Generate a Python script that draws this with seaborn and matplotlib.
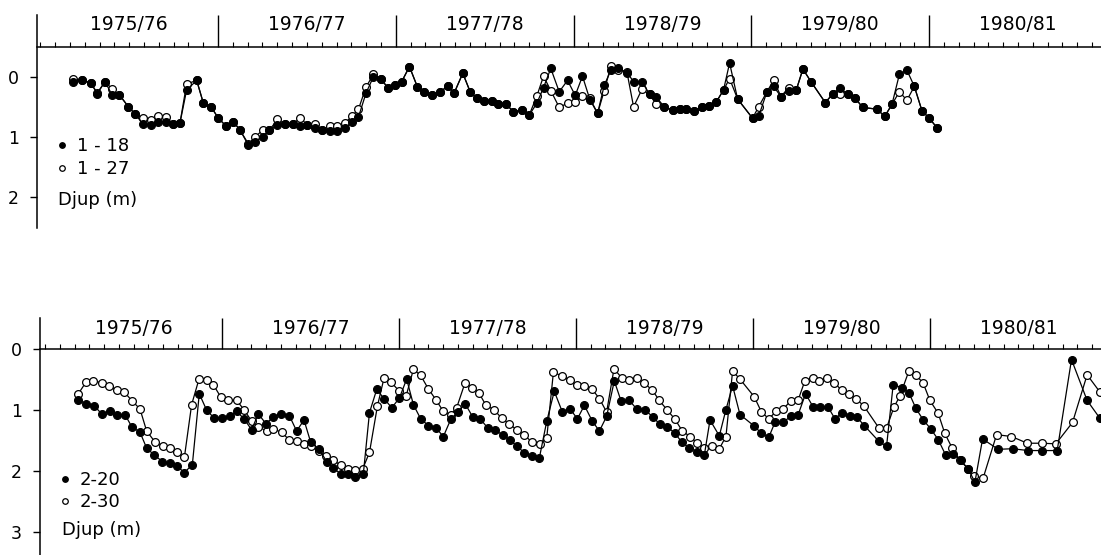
import matplotlib
matplotlib.use("Agg")
import matplotlib.pyplot as plt
import seaborn as sns
import pandas as pd
from matplotlib.lines import Line2D
from matplotlib.ticker import MultipleLocator

sns.set_theme(style="white")
plt.rcParams["font.family"] = ["DejaVu Sans"]

# ---------------- data (months since start of 1975/76, depth in m) ----------------
year_labels = ["1975/76", "1976/77", "1977/78", "1978/79", "1979/80", "1980/81"]

top_months = [
    2.2, 2.8, 3.4, 3.85, 4.37, 4.84, 5.34, 5.95, 6.4, 6.91, 7.48, 7.97, 8.47, 8.94, 9.43,
    9.88, 10.56, 11.01, 11.53, 12.02, 12.54, 13.04, 13.49, 14.05, 14.5, 15.02, 15.47, 16.01,
    16.52, 17.04, 17.54, 18.03, 18.55, 19.0, 19.56, 20.01, 20.57, 21.03, 21.48, 21.99,
    22.49, 22.99, 23.5, 23.95, 24.4, 24.92, 25.46, 25.93, 26.43, 26.99, 27.49, 27.94, 28.52,
    29.02, 29.47, 29.96, 30.5, 30.93, 31.45, 31.94, 32.51, 33.0, 33.52, 33.97, 34.46, 35.03,
    35.59, 36.11, 36.6, 37.1, 37.62, 38.07, 38.52, 39.03, 39.6, 40.05, 40.61, 41.13, 41.58,
    42.12, 42.68, 43.2, 43.6, 44.14, 44.66, 45.11, 45.63, 46.12, 46.53,
    47.07, 48.08, 48.49, 49.05, 49.5, 50.0, 50.51, 51.03, 51.48, 52.02, 52.99, 53.51, 53.96,
    54.52, 55.02, 55.51, 56.48, 57.0, 57.49, 57.99, 58.5, 59.0, 59.52, 60.01, 60.53,
]
well_1_18 = [
    0.08, 0.06, 0.1, 0.28, 0.08, 0.3, 0.3, 0.5, 0.62, 0.78, 0.8, 0.75, 0.75, 0.79, 0.77,
    0.22, 0.06, 0.44, 0.5, 0.69, 0.82, 0.75, 0.89, 1.14, 1.08, 1.0, 0.89, 0.81,
    0.79, 0.79, 0.82, 0.8, 0.86, 0.89, 0.9, 0.9, 0.86, 0.75, 0.67, 0.27,
    0.0, 0.04, 0.19, 0.14, 0.08, -0.17, 0.17, 0.25, 0.31, 0.25, 0.16, 0.27, -0.06,
    0.25, 0.36, 0.41, 0.41, 0.46, 0.46, 0.58, 0.56, 0.64, 0.44, 0.18, -0.14, 0.25,
    0.06, 0.31, -0.01, 0.38, 0.61, 0.14, -0.11, -0.14, -0.07, 0.08, 0.08, 0.29, 0.34,
    0.5, 0.56, 0.54, 0.54, 0.57, 0.5, 0.49, 0.42, 0.22, -0.23,
    0.37, 0.69, 0.66, 0.25, 0.16, 0.33, 0.23, 0.22, -0.13, 0.08, 0.43, 0.28, 0.19,
    0.29, 0.36, 0.51, 0.54, 0.66, 0.46, -0.04, -0.11, 0.16, 0.57, 0.69, 0.85,
]
well_1_27 = [
    0.03, 0.06, 0.1, 0.27, 0.08, 0.2, 0.3, 0.5, 0.62, 0.69, 0.72, 0.66, 0.67, 0.79, 0.77,
    0.12, 0.06, 0.44, 0.5, 0.69, 0.82, 0.75, 0.89, 1.12, 1.0, 0.89, 0.89, 0.71,
    0.79, 0.79, 0.69, 0.8, 0.78, 0.89, 0.82, 0.82, 0.77, 0.66, 0.54, 0.17,
    -0.04, 0.04, 0.19, 0.14, 0.08, -0.17, 0.17, 0.25, 0.31, 0.25, 0.16, 0.27, -0.06,
    0.25, 0.36, 0.41, 0.41, 0.46, 0.46, 0.58, 0.56, 0.64, 0.32, -0.01, 0.23, 0.51,
    0.44, 0.42, 0.32, 0.36, 0.61, 0.23, -0.18, -0.12, -0.08, 0.5, 0.21, 0.29, 0.46,
    0.5, 0.56, 0.54, 0.54, 0.57, 0.5, 0.49, 0.42, 0.22, 0.03,
    0.37, 0.69, 0.5, 0.25, 0.06, 0.33, 0.18, 0.22, -0.13, 0.08, 0.43, 0.28, 0.29,
    0.29, 0.36, 0.51, 0.54, 0.66, 0.46, 0.25, 0.39, 0.16, 0.57, 0.69, 0.85,
]

months_2_20 = [
    2.26, 2.78, 3.35, 3.84, 4.41, 4.9, 5.42, 5.88, 6.44, 6.89, 7.39, 7.96, 8.48, 8.97, 9.45,
    9.99, 10.46, 10.96, 11.48, 11.98, 12.54, 13.0, 13.49, 14.01, 14.46, 14.98, 15.48, 15.98,
    16.57, 17.06, 17.56, 18.01, 18.58, 19.1, 19.55, 20.05, 20.57, 21.02, 21.58, 22.0,
    22.49, 22.99, 23.51, 24.03, 24.52, 24.98, 25.47, 25.99, 26.51, 27.01, 27.51, 27.98,
    28.48, 29.0, 29.5, 30.02, 30.51, 31.03, 31.53, 32.03, 32.5, 33.0, 33.52, 34.02, 34.53,
    35.08, 35.6, 36.1, 36.57, 37.11, 37.59, 38.08, 38.6, 39.06, 39.62, 40.12, 40.68, 41.2,
    41.7, 42.2, 42.72, 43.17, 43.69, 44.23, 44.7, 45.09, 45.72, 46.17,
    46.62, 47.12, 48.09, 48.58, 49.08, 49.49, 50.05, 50.55, 51.07, 51.57, 52.09, 52.58,
    53.1, 53.56, 54.01, 54.57, 55.03, 55.55, 56.54, 57.06, 57.51, 58.08, 58.57, 59.05,
    59.55, 60.04, 60.56, 61.08, 61.58, 62.08, 62.6, 63.05, 63.57, 64.63, 65.6, 66.66,
    67.61, 68.63, 69.6, 70.66, 71.52,
]
well_2_20 = [
    0.84, 0.89, 0.93, 1.06, 1.02, 1.07, 1.07, 1.27, 1.36, 1.62, 1.73, 1.84, 1.87, 1.92, 2.02,
    1.89, 0.73, 1.0, 1.13, 1.13, 1.1, 1.02, 1.14, 1.32, 1.06, 1.22, 1.11, 1.06,
    1.09, 1.34, 1.16, 1.52, 1.64, 1.84, 1.95, 2.04, 2.04, 2.09, 2.05, 1.04,
    0.66, 0.81, 0.96, 0.8, 0.49, 0.91, 1.14, 1.25, 1.29, 1.43, 1.15, 1.03,
    0.89, 1.11, 1.14, 1.29, 1.33, 1.4, 1.49, 1.59, 1.7, 1.75, 1.78, 1.18, 0.69,
    1.03, 0.98, 1.14, 0.92, 1.18, 1.34, 1.1, 0.52, 0.85, 0.84, 0.98, 0.99, 1.11,
    1.23, 1.27, 1.38, 1.52, 1.62, 1.68, 1.74, 1.16, 1.42, 0.99,
    0.6, 1.07, 1.26, 1.38, 1.44, 1.2, 1.2, 1.1, 1.07, 0.73, 0.95, 0.95,
    0.95, 1.14, 1.05, 1.1, 1.11, 1.25, 1.51, 1.59, 0.58, 0.63, 0.71, 0.97,
    1.16, 1.3, 1.48, 1.74, 1.71, 1.82, 1.96, 2.18, 1.47, 1.64, 1.63, 1.66,
    1.66, 1.66, 0.17, 0.84, 1.13,
]

months_2_30 = [
    2.26, 2.78, 3.28, 3.84, 4.36, 4.86, 5.36, 5.92, 6.44, 6.89, 7.46, 7.98, 8.48, 8.93, 9.45,
    9.94, 10.44, 10.96, 11.41, 11.93, 12.43, 13.0, 13.52, 14.01, 14.46, 15.03, 15.48, 16.05,
    16.57, 17.06, 17.56, 18.01, 18.58, 19.05, 19.55, 20.05, 20.57, 21.02, 21.54, 22.0,
    22.54, 22.99, 23.46, 24.03, 24.48, 24.98, 25.47, 25.99, 26.51, 27.01, 27.51, 27.91,
    28.48, 28.98, 29.43, 29.9, 30.44, 30.96, 31.46, 31.98, 32.48, 33.0, 33.56, 34.02, 34.47,
    35.08, 35.6, 36.05, 36.55, 37.11, 37.59, 38.08, 38.58, 39.1, 39.62, 40.12, 40.64, 41.18,
    41.65, 42.2, 42.72, 43.21, 43.73, 44.23, 44.7, 45.2, 45.72, 46.17,
    46.62, 47.12, 48.09, 48.58, 49.08, 49.56, 50.05, 50.55, 51.07, 51.52, 52.04, 52.5,
    52.99, 53.51, 54.01, 54.53, 54.98, 55.52, 56.54, 57.06, 57.56, 57.96, 58.57, 59.05,
    59.55, 60.0, 60.56, 61.01, 61.51, 62.03, 62.6, 62.98, 63.61, 64.52, 65.53, 66.6,
    67.57, 68.54, 69.67, 70.66, 71.52,
]
well_2_30 = [
    0.73, 0.54, 0.52, 0.55, 0.6, 0.67, 0.7, 0.85, 0.98, 1.34, 1.52, 1.58, 1.62, 1.69, 1.77,
    0.91, 0.49, 0.51, 0.58, 0.79, 0.84, 0.84, 1.0, 1.18, 1.27, 1.34, 1.31, 1.36,
    1.49, 1.51, 1.56, 1.59, 1.66, 1.75, 1.82, 1.9, 1.96, 1.98, 1.96, 1.69,
    0.93, 0.47, 0.54, 0.69, 0.77, 0.33, 0.43, 0.65, 0.83, 1.02, 1.07, 0.96,
    0.55, 0.63, 0.72, 0.92, 0.99, 1.13, 1.22, 1.32, 1.4, 1.52, 1.56, 1.45, 0.38,
    0.44, 0.51, 0.59, 0.6, 0.66, 0.81, 1.03, 0.32, 0.47, 0.51, 0.47, 0.56, 0.67,
    0.84, 1.0, 1.15, 1.34, 1.43, 1.54, 1.62, 1.58, 1.63, 1.43,
    0.36, 0.49, 0.78, 1.03, 1.14, 1.02, 0.98, 0.85, 0.83, 0.52, 0.47, 0.52,
    0.48, 0.55, 0.67, 0.73, 0.81, 0.93, 1.29, 1.29, 0.95, 0.77, 0.36, 0.42,
    0.56, 0.84, 1.05, 1.38, 1.62, 1.82, 1.96, 2.08, 2.11, 1.4, 1.43, 1.54,
    1.54, 1.55, 1.2, 0.42, 0.7,
]

# ---------------- figure ----------------
W, H = 1101, 555
fig = plt.figure(figsize=(W / 100, H / 100), dpi=100)
fig.patch.set_facecolor("white")


def axes_px(left, top, right, bottom):
    return fig.add_axes([left / W, 1 - bottom / H, (right - left) / W, (bottom - top) / H])


ax1 = axes_px(37, 15, 1101, 228)
ax2 = axes_px(40, 318, 1101, 555)

FS = 13


def draw_series(ax, x, y, filled):
    df = pd.DataFrame({"month": x, "depth": y})
    sns.lineplot(data=df, x="month", y="depth", ax=ax, color="black", linewidth=0.9,
                 marker="o", markersize=5.6, markeredgewidth=0.9,
                 markeredgecolor="black",
                 markerfacecolor="black" if filled else "white",
                 legend=False, zorder=4 if filled else 3, clip_on=False)


def style(ax, xlim, ylim, axis_y, yticks, label_y, major_len):
    ax.set_facecolor("white")
    ax.set_xlim(*xlim)
    ax.set_ylim(*ylim)
    ax.set_xlabel("")
    ax.set_ylabel("")
    for s in ("bottom", "right"):
        ax.spines[s].set_visible(False)
    for s in ("top", "left"):
        ax.spines[s].set_color("black")
        ax.spines[s].set_linewidth(1.1)
    ax.spines["top"].set_position(("data", axis_y))
    ax.xaxis.set_ticks_position("top")
    ax.set_xticks([12, 24, 36, 48, 60])
    ax.xaxis.set_minor_locator(MultipleLocator(1))
    ax.tick_params(axis="x", which="major", direction="out", length=major_len, width=1.0,
                   color="black", labeltop=False, labelbottom=False, top=True, bottom=False)
    ax.tick_params(axis="x", which="minor", direction="out", length=3.5, width=0.8,
                   color="black", top=True, bottom=False)
    ax.set_yticks(yticks)
    ax.set_yticklabels([str(t) for t in yticks])
    ax.tick_params(axis="y", direction="out", length=5, width=1.0, pad=8,
                   color="black", labelsize=12.5, labelcolor="black", left=True)
    for i, lab in enumerate(year_labels):
        ax.text(6 + 12 * i, label_y, lab, ha="center", va="center", fontsize=13.5,
                color="black", clip_on=False)
    ax.grid(False)


# top panel: wells 1-18 (filled) and 1-27 (open)
draw_series(ax1, top_months, well_1_27, filled=False)
draw_series(ax1, top_months, well_1_18, filled=True)
style(ax1, (-0.22, 71.6), (2.52, -1.03), -0.5, [0, 1, 2], -0.87, 23)

# bottom panel: wells 2-20 (filled) and 2-30 (open)
draw_series(ax2, months_2_30, well_2_30, filled=False)
draw_series(ax2, months_2_20, well_2_20, filled=True)
style(ax2, (-0.34, 71.6), (3.37, -0.51), 0.0, [0, 1, 2, 3], -0.34, 22.5)


def legend(ax, labels, x_px, y_px, row_px):
    handles = [
        Line2D([], [], ls="none", marker="o", ms=4, mfc="black", mec="black", mew=0.9),
        Line2D([], [], ls="none", marker="o", ms=4, mfc="white", mec="black", mew=0.9),
    ]
    leg = ax.legend(handles, labels, loc="upper left",
                    bbox_to_anchor=(x_px / W, 1 - y_px / H), bbox_transform=fig.transFigure,
                    frameon=False, fontsize=FS, handlelength=0.6, handletextpad=0.5,
                    labelspacing=row_px, borderpad=0, borderaxespad=0)
    for t in leg.get_texts():
        t.set_color("black")
    return leg


legend(ax1, ["1 - 18", "1 - 27"], 57, 137, 0.27)
fig.text(58 / W, 1 - 200 / H, "Djup (m)", ha="left", va="center", fontsize=FS, color="black")

legend(ax2, ["2-20", "2-30"], 60, 471, 0.22)
fig.text(62 / W, 1 - 530 / H, "Djup (m)", ha="left", va="center", fontsize=FS, color="black")

fig.savefig("out.png", dpi=100, facecolor="white")
